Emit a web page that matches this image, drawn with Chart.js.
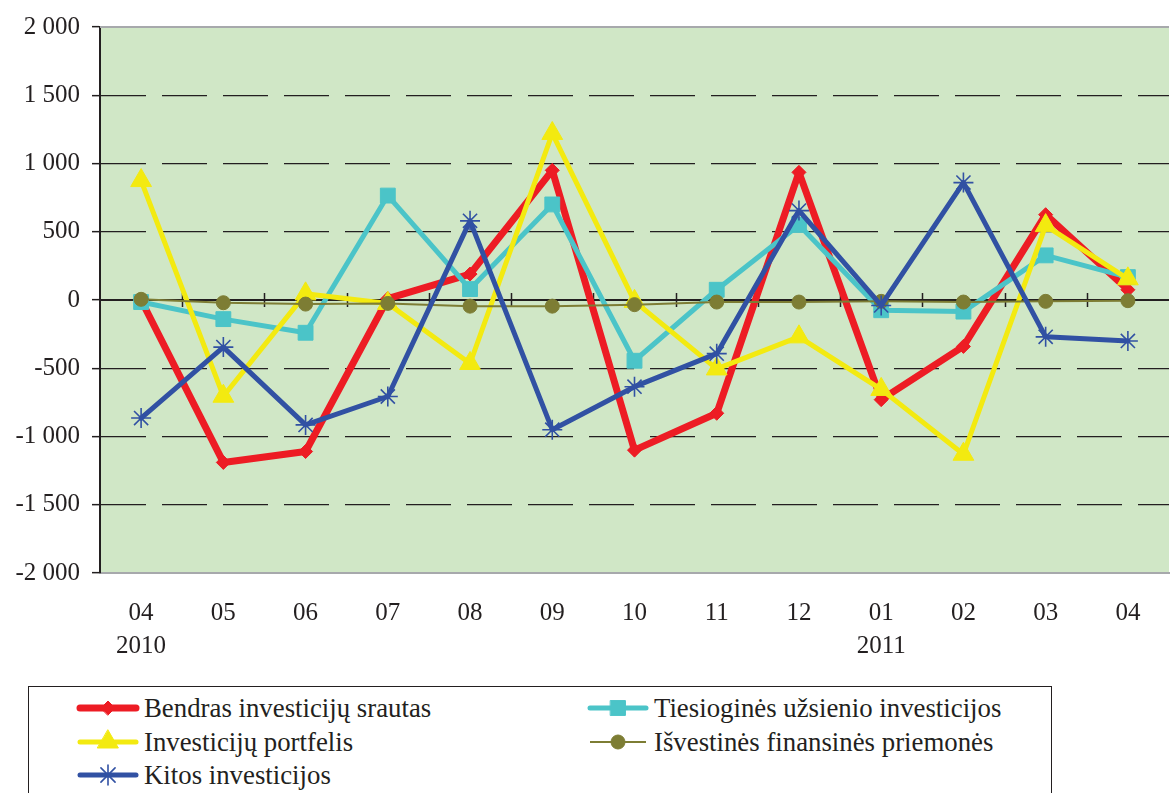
<!DOCTYPE html>
<html lang="lt">
<head>
<meta charset="utf-8">
<title>Investicijų srautai</title>
<script src="https://cdn.jsdelivr.net/npm/chart.js@4.4.1/dist/chart.umd.min.js"></script>
<style>
  html, body { margin: 0; padding: 0; background: #fff; overflow: hidden; width: 1172px; height: 793px; }
  #wrap { position: absolute; left: 0; top: 0; width: 1182px; height: 660px; }
  #legend {
    position: absolute; left: 28px; top: 686px; width: 1024px; height: 130px;
    border: 1.5px solid #231f20; box-sizing: border-box;
    font-family: "Liberation Serif", "DejaVu Serif", serif; font-size: 26.8px; color: #231f20;
  }
  .item { position: absolute; display: flex; align-items: center; height: 30px; white-space: nowrap; }
  .item canvas { display: block; margin-right: 4px; }
</style>
</head>
<body>
<div id="wrap"><canvas id="chart" width="1182" height="660"></canvas></div>
<div id="legend"></div>
<script>
// ---- data ----
const months = ['04', '05', '06', '07', '08', '09', '10', '11', '12', '01', '02', '03', '04'];
const years = ['2010', '', '', '', '', '', '', '', '', '2011', '', '', ''];
const yTickLabels = ['-2 000', '-1 500', '-1 000', '-500', '0', '500', '1 000', '1 500', '2 000'];

const bendras = [0, -1190, -1110, 10, 190, 950, -1100, -830, 935, -730, -340, 625, 75];
const tiesiogines = [-15, -140, -240, 765, 80, 700, -445, 75, 550, -75, -85, 327, 168];
const portfelis = [875, -705, 45, -25, -465, 1220, -10, -505, -270, -655, -1130, 545, 155];
const isvestines = [5, -20, -30, -25, -45, -45, -34, -15, -15, -10, -15, -10, -5];
const kitos = [-865, -345, -915, -707, 580, -950, -635, -393, 655, -40, 860, -270, -300];

const colors = {
  red: '#ed1c24',
  cyan: '#4bc4c8',
  yellow: '#f3ea10',
  olive: '#7d7d34',
  blue: '#3151a3',
  plotBg: '#d0e7c6',
  frame: '#a7a9ac',
  ink: '#231f20',
};
const serif = '"Liberation Serif", "DejaVu Serif", serif';

function series(label, data, color, opts) {
  return {
    label, data,
    borderColor: color, backgroundColor: color,
    pointBackgroundColor: color, pointBorderColor: color,
    pointBorderWidth: 1, tension: 0,
    borderJoinStyle: 'round', borderCapStyle: 'round',
    ...opts,
  };
}

const datasets = [
  series('Bendras investicijų srautas', bendras, colors.red, { borderWidth: 7, pointStyle: 'rectRot', pointRadius: 7, order: 5 }),
  series('Tiesioginės užsienio investicijos', tiesiogines, colors.cyan, { borderWidth: 5, pointStyle: 'rect', pointRadius: 10.5, order: 4 }),
  series('Investicijų portfelis', portfelis, colors.yellow, { borderWidth: 5, pointStyle: 'triangle', pointRadius: 12, order: 3 }),
  series('Išvestinės finansinės priemonės', isvestines, colors.olive, { borderWidth: 2, pointStyle: 'circle', pointRadius: 7, borderCapStyle: 'butt', order: 2 }),
  series('Kitos investicijos', kitos, colors.blue, { borderWidth: 5, pointStyle: 'star', pointRadius: 10, pointBorderWidth: 1.6, order: 1 }),
];

// background, top frame and the zero line with its tick marks
const plotFrame = {
  id: 'plotFrame',
  beforeDraw(chart) {
    const { ctx, chartArea: a } = chart;
    ctx.save();
    ctx.fillStyle = colors.plotBg;
    ctx.fillRect(a.left, a.top, a.right - a.left, a.bottom - a.top);
    ctx.restore();
  },
  beforeDatasetsDraw(chart) {
    const { ctx, chartArea: a, scales: { x, y } } = chart;
    const y0 = y.getPixelForValue(0);
    ctx.save();
    ctx.strokeStyle = colors.frame;
    ctx.lineWidth = 2;
    ctx.beginPath(); ctx.moveTo(a.left, a.top); ctx.lineTo(a.right, a.top); ctx.stroke();
    ctx.strokeStyle = colors.ink;
    ctx.lineWidth = 2;
    ctx.beginPath(); ctx.moveTo(a.left, y0); ctx.lineTo(a.right, y0); ctx.stroke();
    ctx.lineWidth = 1.5;
    ctx.beginPath();
    for (let i = 1; i < months.length; i++) {
      const px = Math.round((x.getPixelForTick(i - 1) + x.getPixelForTick(i)) / 2) + 0.5;
      ctx.moveTo(px, y0 - 7); ctx.lineTo(px, y0 + 7);
    }
    ctx.stroke();
    ctx.restore();
  },
};

const chart = new Chart(document.getElementById('chart'), {
  type: 'line',
  data: {
    labels: months.map((m, i) => years[i] ? [m, years[i]] : m),
    datasets,
  },
  options: {
    responsive: false,
    animation: false,
    devicePixelRatio: 1,
    layout: { padding: { top: 24, left: 0, right: 0, bottom: 0 } },
    plugins: { legend: { display: false }, tooltip: { enabled: false } },
    scales: {
      x: {
        offset: true,
        grid: { display: false },
        border: { display: true, color: colors.frame, width: 2 },
        ticks: { font: { family: serif, size: 25, lineHeight: 1.32 }, color: colors.ink, padding: 16, maxRotation: 0, autoSkip: false },
        afterFit(scale) { scale.height = 87; },
      },
      y: {
        min: -2000, max: 2000,
        ticks: {
          stepSize: 500,
          font: { family: serif, size: 25 },
          color: colors.ink,
          padding: 12,
          callback: (v, i) => yTickLabels[i],
        },
        grid: {
          color: c => (c.tick && Math.abs(c.tick.value) === 2000) ? 'rgba(0,0,0,0)' : colors.ink,
          lineWidth: 1.3,
          tickColor: colors.ink,
          tickLength: 8,
          tickWidth: 1.5,
        },
        border: { display: true, color: colors.ink, width: 2, dash: [45, 16] },
        afterFit(scale) { scale.width = 100; },
      },
    },
  },
  plugins: [plotFrame],
});

// ---- HTML legend, two columns like the original box ----
const legendSlots = [
  { left: 47, top: 6 }, { left: 557, top: 6 },
  { left: 47, top: 40 }, { left: 557, top: 40 },
  { left: 47, top: 73 },
];
const legend = document.getElementById('legend');
datasets.forEach((ds, i) => {
  const item = document.createElement('div');
  item.className = 'item';
  item.style.left = legendSlots[i].left + 'px';
  item.style.top = legendSlots[i].top + 'px';
  const c = document.createElement('canvas');
  c.width = 64; c.height = 30;
  const g = c.getContext('2d');
  g.strokeStyle = ds.borderColor;
  g.lineWidth = ds.borderWidth;
  g.lineCap = ds.borderCapStyle;
  g.beginPath(); g.moveTo(4, 15); g.lineTo(60, 15); g.stroke();
  g.fillStyle = ds.pointBackgroundColor;
  g.strokeStyle = ds.pointBorderColor;
  g.lineWidth = ds.pointBorderWidth;
  if (Chart.helpers && Chart.helpers.drawPoint) {
    Chart.helpers.drawPoint(g, { pointStyle: ds.pointStyle, radius: ds.pointRadius, rotation: 0, borderWidth: ds.pointBorderWidth }, 32, 15);
  }
  const t = document.createElement('span');
  t.textContent = ds.label;
  item.appendChild(c);
  item.appendChild(t);
  legend.appendChild(item);
});
</script>
</body>
</html>
